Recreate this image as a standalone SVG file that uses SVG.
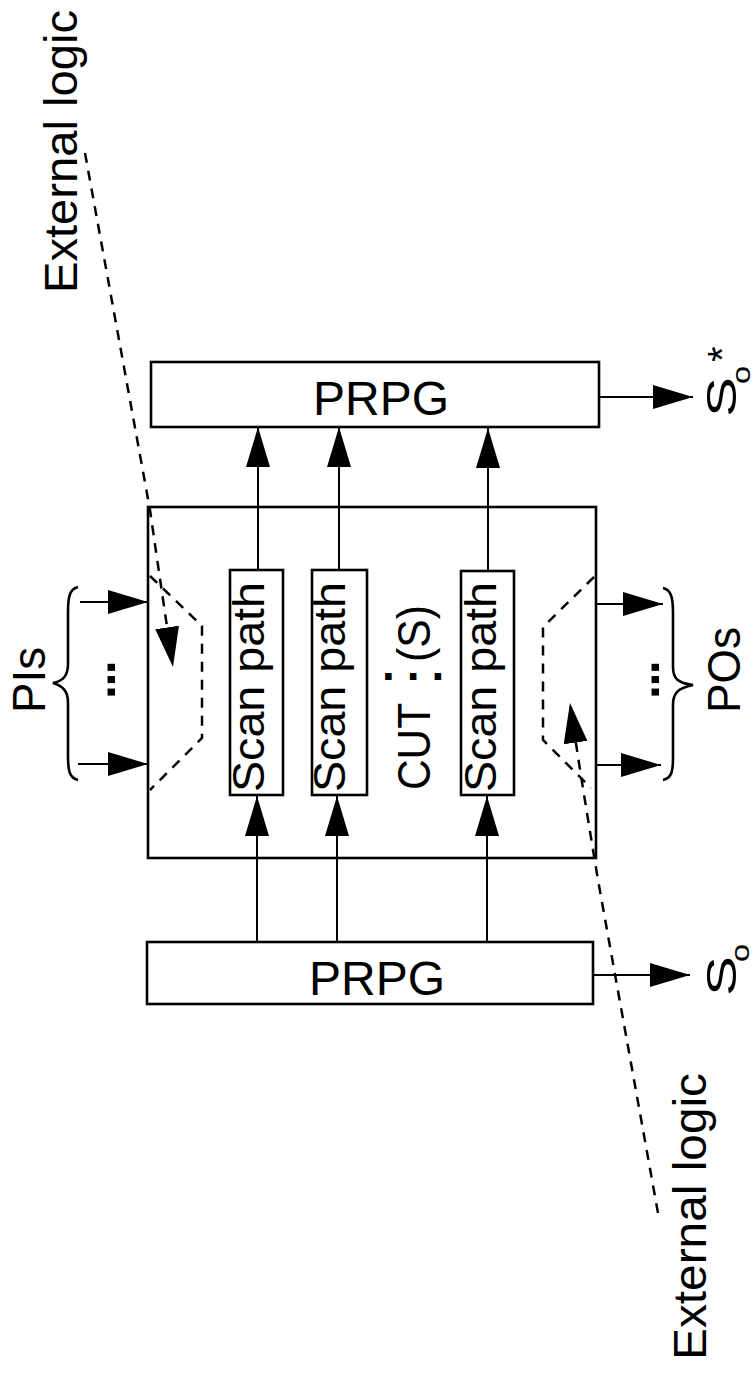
<svg xmlns="http://www.w3.org/2000/svg" width="756" height="1374" viewBox="0 0 756 1374">
<defs>
<style>
text{font-family:"Liberation Sans",Arial,sans-serif;fill:#000}
.box{fill:#fff;stroke:#000;stroke-width:2.6}
.ln{fill:none;stroke:#000;stroke-width:2}
.dash{fill:none;stroke:#000;stroke-width:2.5;stroke-dasharray:10 8}
.brace{fill:none;stroke:#000;stroke-width:2.6}
.big{font-size:47px}
.sp{font-size:45px}
.dots{font-size:50px;font-weight:bold;letter-spacing:-1.5px}
</style>
<marker id="ah" viewBox="0 0 40 24" refX="40" refY="12" markerWidth="40" markerHeight="24" markerUnits="userSpaceOnUse" orient="auto">
<path d="M0,0 L40,12 L0,24 z" fill="#000" stroke="none"/>
</marker>
</defs>
<rect width="756" height="1374" fill="#fff"/>

<g id="cut">
<rect class="box" x="148" y="507" width="448" height="351"/>
<text transform="translate(430,790) rotate(-90)" font-size="46"><tspan x="0" textLength="87" lengthAdjust="spacingAndGlyphs">CUT</tspan><tspan x="128" textLength="57" lengthAdjust="spacingAndGlyphs">(S)</tspan></text>
<text x="382" y="680" font-size="46" font-weight="bold" letter-spacing="12">...</text>
<path class="dash" d="M150,576 L202,626 L202,738 L150,790"/>
<path class="dash" d="M594,577 L543,627 L543,740 L591,788"/>
</g>

<g id="prpg-top">
<rect class="box" x="151" y="362" width="448" height="65"/>
<text x="381" y="415" font-size="48" text-anchor="middle">PRPG</text>
</g>

<g id="prpg-bottom">
<rect class="box" x="147" y="942" width="446" height="62"/>
<text x="377" y="995" font-size="48" text-anchor="middle">PRPG</text>
</g>

<g id="scan1">
<rect class="box" x="230" y="570" width="53" height="225"/>
<text class="sp" transform="translate(264,792) rotate(-90)" textLength="210" lengthAdjust="spacingAndGlyphs">Scan path</text>
</g>
<g id="scan2">
<rect class="box" x="312" y="570" width="55" height="225"/>
<text class="sp" transform="translate(345,792) rotate(-90)" textLength="210" lengthAdjust="spacingAndGlyphs">Scan path</text>
</g>
<g id="scan3">
<rect class="box" x="461" y="571" width="53" height="224"/>
<text class="sp" transform="translate(496,792) rotate(-90)" textLength="210" lengthAdjust="spacingAndGlyphs">Scan path</text>
</g>

<g id="pis">
<path class="brace" d="M78,587 C70,589 68,596 68,612 L68,664 C68,676 63,681 53,683 C63,686 68,691 68,703 L68,756 C68,772 70,778 78,780"/>
<text class="big" transform="translate(45,713) rotate(-90)" textLength="66" lengthAdjust="spacingAndGlyphs">PIs</text>
<text class="dots" transform="translate(115,699) rotate(-90)">...</text>
</g>

<g id="pos">
<path class="brace" d="M663,588 C671,590 673,597 673,613 L673,667 C673,679 678,683 693,685 C678,688 673,693 673,705 L673,758 C673,773 671,778 663,780"/>
<text class="big" transform="translate(740,713) rotate(-90)" textLength="86" lengthAdjust="spacingAndGlyphs">POs</text>
<text class="dots" transform="translate(659,699) rotate(-90)">...</text>
</g>

<g id="so-star">
<text transform="translate(736,417) rotate(-90)"><tspan x="0" y="0" font-size="42" textLength="40" lengthAdjust="spacingAndGlyphs">S</tspan><tspan x="33" y="14" font-size="25" textLength="18" lengthAdjust="spacingAndGlyphs">o</tspan><tspan x="55" y="0" font-size="40">*</tspan></text>
</g>

<g id="so">
<text transform="translate(736,996) rotate(-90)"><tspan x="0" y="0" font-size="42" textLength="40" lengthAdjust="spacingAndGlyphs">S</tspan><tspan x="34" y="13" font-size="25" textLength="18" lengthAdjust="spacingAndGlyphs">o</tspan></text>
</g>

<g id="ext-logic-top">
<text class="big" transform="translate(77,293) rotate(-90)" textLength="283" lengthAdjust="spacingAndGlyphs">External logic</text>
</g>

<g id="ext-logic-bottom">
<text class="big" transform="translate(706,1360) rotate(-90)" textLength="287" lengthAdjust="spacingAndGlyphs">External logic</text>
</g>

<g id="connectors">
<line class="ln" x1="258" y1="570" x2="258" y2="427" marker-end="url(#ah)"/>
<line class="ln" x1="339" y1="570" x2="339" y2="427" marker-end="url(#ah)"/>
<line class="ln" x1="488" y1="571" x2="488" y2="428" marker-end="url(#ah)"/>
<line class="ln" x1="257" y1="942" x2="257" y2="796" marker-end="url(#ah)"/>
<line class="ln" x1="337" y1="942" x2="337" y2="796" marker-end="url(#ah)"/>
<line class="ln" x1="487" y1="942" x2="487" y2="796" marker-end="url(#ah)"/>
<line class="ln" x1="599" y1="397" x2="693" y2="397" marker-end="url(#ah)"/>
<line class="ln" x1="593" y1="975" x2="690" y2="975" marker-end="url(#ah)"/>
<line class="ln" x1="80" y1="602" x2="148" y2="602" marker-end="url(#ah)"/>
<line class="ln" x1="78" y1="764" x2="148" y2="764" marker-end="url(#ah)"/>
<line class="ln" x1="596" y1="604" x2="663" y2="604" marker-end="url(#ah)"/>
<line class="ln" x1="596" y1="765" x2="661" y2="765" marker-end="url(#ah)"/>
<path class="dash" d="M85,153 L150,510 Q163,600 173,667" marker-end="url(#ah)"/>
<path class="dash" d="M658,1213 L598,880 Q578,760 570,703" marker-end="url(#ah)"/>
</g>
</svg>
